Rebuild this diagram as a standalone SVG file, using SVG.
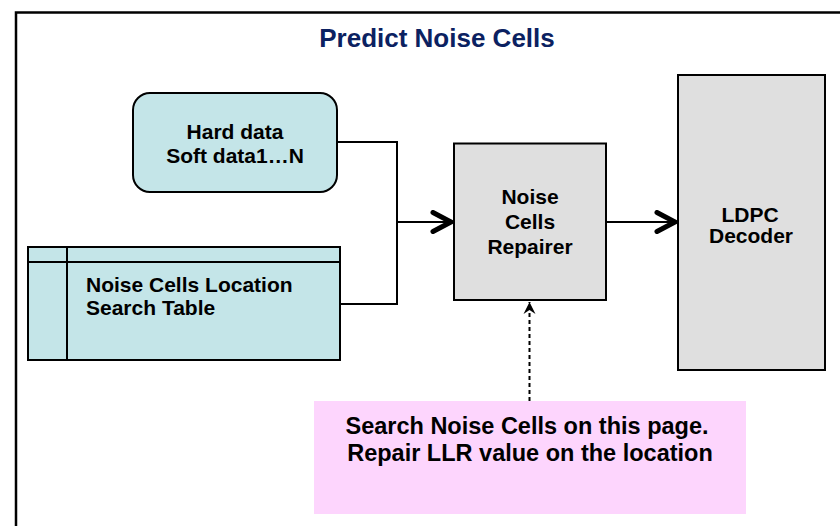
<svg xmlns="http://www.w3.org/2000/svg" width="840" height="526" viewBox="0 0 840 526">
  <defs>
    <style>
      .t { font-family: "Liberation Sans", Arial, sans-serif; font-weight: bold; fill: #000; text-anchor: middle; }
      .title { font-family: "Liberation Sans", Arial, sans-serif; font-weight: bold; fill: #0b2161; text-anchor: middle; font-size: 26px; }
      .teal { fill: #c4e5e8; stroke: #000; stroke-width: 2; }
      .grey { fill: #dfdfdf; stroke: #000; stroke-width: 2; }
      .conn { fill: none; stroke: #000; stroke-width: 2; }
      .dash { fill: none; stroke: #000; stroke-width: 2; stroke-dasharray: 4 3; }
    </style>
    <marker id="chev" viewBox="0 0 24 24" markerWidth="24" markerHeight="24" refX="22" refY="12" orient="auto" markerUnits="userSpaceOnUse">
      <path d="M3,2.5 L21,12 L3,21.5" fill="none" stroke="#000" stroke-width="5" stroke-linecap="round" stroke-linejoin="miter"/>
    </marker>
    <marker id="chevSmall" viewBox="0 0 16 16" markerWidth="16" markerHeight="16" refX="14" refY="8" orient="auto" markerUnits="userSpaceOnUse">
      <path d="M2,2 L14,8 L2,14 L6,8 Z" fill="#000"/>
    </marker>
  </defs>

  <rect id="frame" x="16" y="12.5" width="900" height="600" fill="#fff" stroke="#000" stroke-width="2.5"/>

  <g id="title">
    <text class="title" x="437" y="47">Predict Noise Cells</text>
  </g>

  <g id="connectors">
    <path class="conn" d="M337,142 H397 V222 H452" marker-end="url(#chev)"/>
    <path class="conn" d="M340,304 H397 V222"/>
    <path class="conn" d="M606,222 H676" marker-end="url(#chev)"/>
    <path class="dash" d="M529.5,401 V302" marker-end="url(#chevSmall)"/>
  </g>

  <g id="data-input">
    <rect class="teal" x="133" y="93" width="204" height="99" rx="17" ry="17"/>
    <text class="t" x="235" y="139" font-size="21">Hard data</text>
    <text class="t" x="235" y="163" font-size="21">Soft data1…N</text>
  </g>

  <g id="search-table">
    <rect class="teal" x="28" y="247" width="312" height="113"/>
    <line x1="67" y1="247" x2="67" y2="360" stroke="#000" stroke-width="2"/>
    <line x1="28" y1="262" x2="340" y2="262" stroke="#000" stroke-width="2"/>
    <text class="t" x="86" y="292" font-size="21" text-anchor="start" style="text-anchor:start">Noise Cells Location</text>
    <text class="t" x="86" y="315" font-size="21" style="text-anchor:start">Search Table</text>
  </g>

  <g id="repairer">
    <rect class="grey" x="454" y="143.5" width="152" height="156.5"/>
    <text class="t" x="530" y="204" font-size="21">Noise</text>
    <text class="t" x="530" y="229" font-size="21">Cells</text>
    <text class="t" x="530" y="254" font-size="21">Repairer</text>
  </g>

  <g id="ldpc">
    <rect class="grey" x="678" y="75" width="147" height="295"/>
    <text class="t" x="750" y="222" font-size="21">LDPC</text>
    <text class="t" x="751" y="243" font-size="21">Decoder</text>
  </g>

  <g id="note">
    <rect x="314" y="401" width="432" height="113" fill="#fdd5fd"/>
    <text class="t" x="527" y="434" font-size="23.5">Search Noise Cells on this page.</text>
    <text class="t" x="530" y="461" font-size="23.5">Repair LLR value on the location</text>
  </g>
</svg>
